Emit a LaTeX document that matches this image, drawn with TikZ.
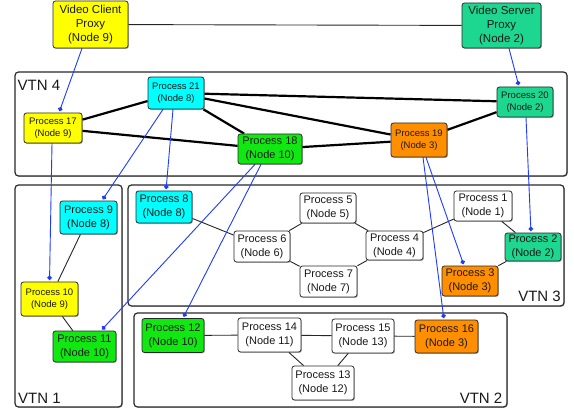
\documentclass[tikz,border=0pt]{standalone}
\usepackage{fontspec}
\setmainfont{Liberation Sans}
\usetikzlibrary{arrows.meta,shadows}
\definecolor{pyellow}{RGB}{255,255,0}
\definecolor{pcyan}{RGB}{0,255,255}
\definecolor{pgreen}{RGB}{17,232,17}
\definecolor{pteal}{RGB}{29,214,143}
\definecolor{porange}{RGB}{255,142,0}
\definecolor{linkblue}{RGB}{30,60,250}
\definecolor{edgegray}{RGB}{40,40,40}
\definecolor{textgray}{RGB}{25,25,25}
\pgfdeclarelayer{boxlayer}
\pgfdeclarelayer{edgelayer}
\pgfsetlayers{boxlayer,edgelayer,main}
\tikzset{
  proc/.style={draw=edgegray, line width=0.8pt, rounded corners=2.5pt, fill=white,
    align=center, inner sep=0pt, text=textgray,
    drop shadow={shadow xshift=0.9pt, shadow yshift=-0.9pt, opacity=0.3, fill=black}},
  wh/.style 2 args={minimum width=#1pt, minimum height=#2pt},
  smallf/.style={font=\fontsize{9.5}{12.5}\selectfont},
  largef/.style={font=\fontsize{11}{14}\selectfont},
  proxyf/.style={font=\fontsize{11.5}{14}\selectfont},
  vtnbox/.style={draw=edgegray, line width=1.2pt, rounded corners=3.5pt, fill=white,
    drop shadow={shadow xshift=0.9pt, shadow yshift=-0.9pt, opacity=0.25, fill=black}},
  vtnlabel/.style={font=\fontsize{15}{17}\selectfont, inner sep=0pt, text=textgray},
  thick edge/.style={draw=black, line width=2.2pt},
  thin edge/.style={draw=black!85, line width=0.9pt},
  link/.style={draw=linkblue, line width=0.9pt, -{Circle[length=4.5pt]}, shorten >=1.5pt},
}
\begin{document}
\begin{tikzpicture}[x=1pt,y=-1pt]
\useasboundingbox (0,0) rectangle (574,412);

% VTN containers
\begin{pgfonlayer}{boxlayer}
\draw[vtnbox] (15,72) rectangle (567,176);
\draw[vtnbox] (15,185) rectangle (122,407);
\draw[vtnbox] (128,185) rectangle (564,306);
\draw[vtnbox] (134,313) rectangle (507,407);
\end{pgfonlayer}
\node[vtnlabel, anchor=base west] (l4) at (17.5,90.7) {VTN 4};
\node[vtnlabel, anchor=base west] (l1) at (18,403) {VTN 1};
\node[vtnlabel, anchor=base east] (l3) at (561,301.7) {VTN 3};
\node[vtnlabel, anchor=base east] (l2) at (502.5,403) {VTN 2};

% proxies
\node[proc, proxyf, fill=pyellow, wh={75}{47}] (vcp) at (90.5,24.5) {Video Client\\Proxy\\(Node 9)};
\node[proc, proxyf, fill=pteal, wh={79}{45}] (vsp) at (501.5,25.5) {Video Server\\Proxy\\(Node 2)};

% VTN 4
\node[proc, smallf, fill=pyellow, wh={58}{30}] (p17) at (53,128) {Process 17\\(Node 9)};
\node[proc, smallf, fill=pcyan, wh={56}{32}] (p21) at (176,93) {Process 21\\(Node 8)};
\node[proc, largef, fill=pgreen, wh={64}{30}] (p18) at (270,149) {Process 18\\(Node 10)};
\node[proc, smallf, fill=porange, wh={56}{34}] (p19) at (419,140) {Process 19\\(Node 3)};
\node[proc, smallf, fill=pteal, wh={56}{30}] (p20) at (525,102) {Process 20\\(Node 2)};

% VTN 1
\node[proc, largef, fill=pcyan, wh={57}{33}] (p9) at (88.5,217.5) {Process 9\\(Node 8)};
\node[proc, smallf, fill=pyellow, wh={57}{34}] (p10) at (49.5,299) {Process 10\\(Node 9)};
\node[proc, largef, fill=pgreen, wh={63}{31}] (p11) at (84.5,346.5) {Process 11\\(Node 10)};

% VTN 3
\node[proc, largef, fill=pcyan, wh={56}{32}] (p8) at (164,207) {Process 8\\(Node 8)};
\node[proc, largef, wh={56}{31}] (p6) at (262,246.5) {Process 6\\(Node 6)};
\node[proc, largef, wh={56}{30}] (p5) at (328,208) {Process 5\\(Node 5)};
\node[proc, largef, wh={57}{31}] (p7) at (328.5,281.5) {Process 7\\(Node 7)};
\node[proc, largef, wh={57}{29}] (p4) at (394.5,245.5) {Process 4\\(Node 4)};
\node[proc, largef, wh={58}{30}] (p1) at (483,206) {Process 1\\(Node 1)};
\node[proc, largef, fill=pteal, wh={56}{28}] (p2) at (533,247) {Process 2\\(Node 2)};
\node[proc, largef, fill=porange, wh={56}{30}] (p3) at (470,281) {Process 3\\(Node 3)};

% VTN 2
\node[proc, largef, fill=pgreen, wh={62}{34}] (p12) at (173,335.5) {Process 12\\(Node 10)};
\node[proc, largef, wh={63}{34}] (p14) at (269.5,335) {Process 14\\(Node 11)};
\node[proc, largef, wh={62}{34}] (p15) at (363,336) {Process 15\\(Node 13)};
\node[proc, largef, fill=porange, wh={63}{33}] (p16) at (446.5,336.5) {Process 16\\(Node 3)};
\node[proc, largef, wh={62}{34}] (p13) at (323,383) {Process 13\\(Node 12)};

\begin{pgfonlayer}{edgelayer}
% proxy link
\draw[thin edge] (vcp) -- (vsp);
% VTN 4 thick edges
\draw[thick edge] (p17) -- (p21);
\draw[thick edge] (p17) -- (p18);
\draw[thick edge] (p21) -- (p18);
\draw[thick edge] (p21) -- (p20);
\draw[thick edge] (p21) -- (p19);
\draw[thick edge] (p18) -- (p19);
\draw[thick edge] (p19) -- (p20);
% VTN 1
\draw[thin edge] (p9) -- (p10);
\draw[thin edge] (p10) -- (p11);
% VTN 3
\draw[thin edge] (p8) -- (p6);
\draw[thin edge] (p6) -- (p5);
\draw[thin edge] (p6) -- (p7);
\draw[thin edge] (p5) -- (p4);
\draw[thin edge] (p7) -- (p4);
\draw[thin edge] (p4) -- (p1);
\draw[thin edge] (p1) -- (p2);
\draw[thin edge] (p2) -- (p3);
% VTN 2
\draw[thin edge] (p12) -- (p14);
\draw[thin edge] (p14) -- (p15);
\draw[thin edge] (p15) -- (p16);
\draw[thin edge] (p14) -- (p13);
\draw[thin edge] (p15) -- (p13);
% mapping links
\draw[link] ([xshift=-8.5pt]vcp.south) -- ([xshift=6pt]p17.north);
\draw[link] ([xshift=7.5pt]vsp.south) -- ([xshift=-6pt]p20.north);
\draw[link] ([xshift=-1pt]p17.south) -- ([xshift=0pt]p10.north);
\draw[link] ([xshift=-13pt]p21.south) -- ([xshift=13.5pt]p9.north);
\draw[link] ([xshift=-3pt]p21.south) -- ([xshift=2pt]p8.north);
\draw[link] ([xshift=-15pt]p18.south) -- ([xshift=16.5pt]p11.north);
\draw[link] ([xshift=-9pt]p18.south) -- ([xshift=10pt]p12.north);
\draw[link] ([xshift=7pt]p19.south) -- ([xshift=-6pt]p3.north);
\draw[link] ([xshift=4pt]p19.south) -- ([xshift=-2.5pt]p16.north);
\draw[link] ([xshift=1pt]p20.south) -- ([xshift=-2pt]p2.north);
\end{pgfonlayer}
\end{tikzpicture}
\end{document}
